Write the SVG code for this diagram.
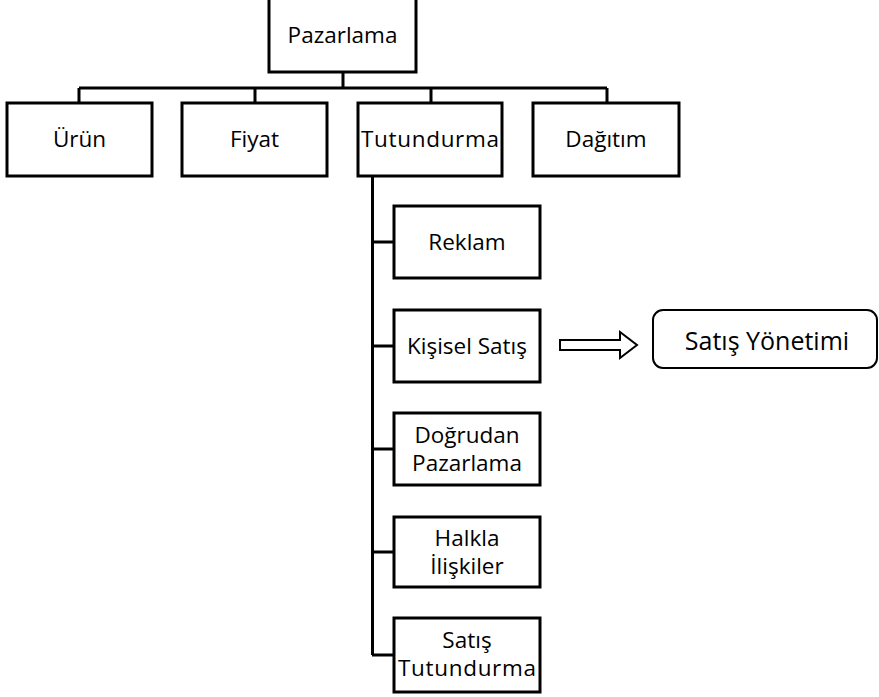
<svg xmlns="http://www.w3.org/2000/svg" width="879" height="697" viewBox="0 0 879 697">
<style>
.box{fill:#fff;stroke:#000;stroke-width:3}
.t{font-family:"Open Sans","Liberation Sans",sans-serif;font-size:22.5px;fill:#000;text-anchor:middle}
.c{fill:none;stroke:#000;stroke-width:3}
</style>
<rect width="879" height="697" fill="#fff"/>
<g id="connectors">
<path class="c" d="M343 72V88M79 88H607M79 88V103M255 88V103M431 88V103M607 88V103"/>
<path class="c" d="M372.5 176V655M372 242H394M372 346H394M372 449H394M372 552H394M372 655H394"/>
<path d="M560 340H620V332L637 345L620 358V350H560Z" fill="#fff" stroke="#000" stroke-width="2"/>
</g>
<g id="pazarlama"><rect class="box" x="269" y="-5" width="147" height="77"/><text class="t" x="342.5" y="43">Pazarlama</text></g>
<g id="urun"><rect class="box" x="7" y="103" width="145" height="73"/><text class="t" x="79.5" y="147">Ürün</text></g>
<g id="fiyat"><rect class="box" x="182" y="103" width="145" height="73"/><text class="t" x="254.5" y="147">Fiyat</text></g>
<g id="tutundurma"><rect class="box" x="358" y="103" width="144" height="73"/><text class="t" x="430" y="147" textLength="138">Tutundurma</text></g>
<g id="dagitim"><rect class="box" x="533" y="103" width="146" height="73"/><text class="t" x="606" y="147">Dağıtım</text></g>
<g id="reklam"><rect class="box" x="394" y="206" width="146" height="72"/><text class="t" x="467" y="250">Reklam</text></g>
<g id="kisisel"><rect class="box" x="394" y="310" width="146" height="72"/><text class="t" x="467" y="354">Kişisel Satış</text></g>
<g id="dogrudan"><rect class="box" x="394" y="413" width="146" height="72"/><text class="t" x="467" y="443">Doğrudan</text><text class="t" x="467" y="471">Pazarlama</text></g>
<g id="halkla"><rect class="box" x="394" y="517" width="146" height="70"/><text class="t" x="467" y="546">Halkla</text><text class="t" x="467" y="574">İlişkiler</text></g>
<g id="satis-tutundurma"><rect class="box" x="394" y="618" width="146" height="74"/><text class="t" x="467" y="648">Satış</text><text class="t" x="467" y="676" textLength="138">Tutundurma</text></g>
<g id="satis-yonetimi"><rect x="653" y="310" width="224" height="58" rx="10" fill="#fff" stroke="#000" stroke-width="2"/><text class="t" x="767" y="350" style="font-size:25px">Satış Yönetimi</text></g>
</svg>
